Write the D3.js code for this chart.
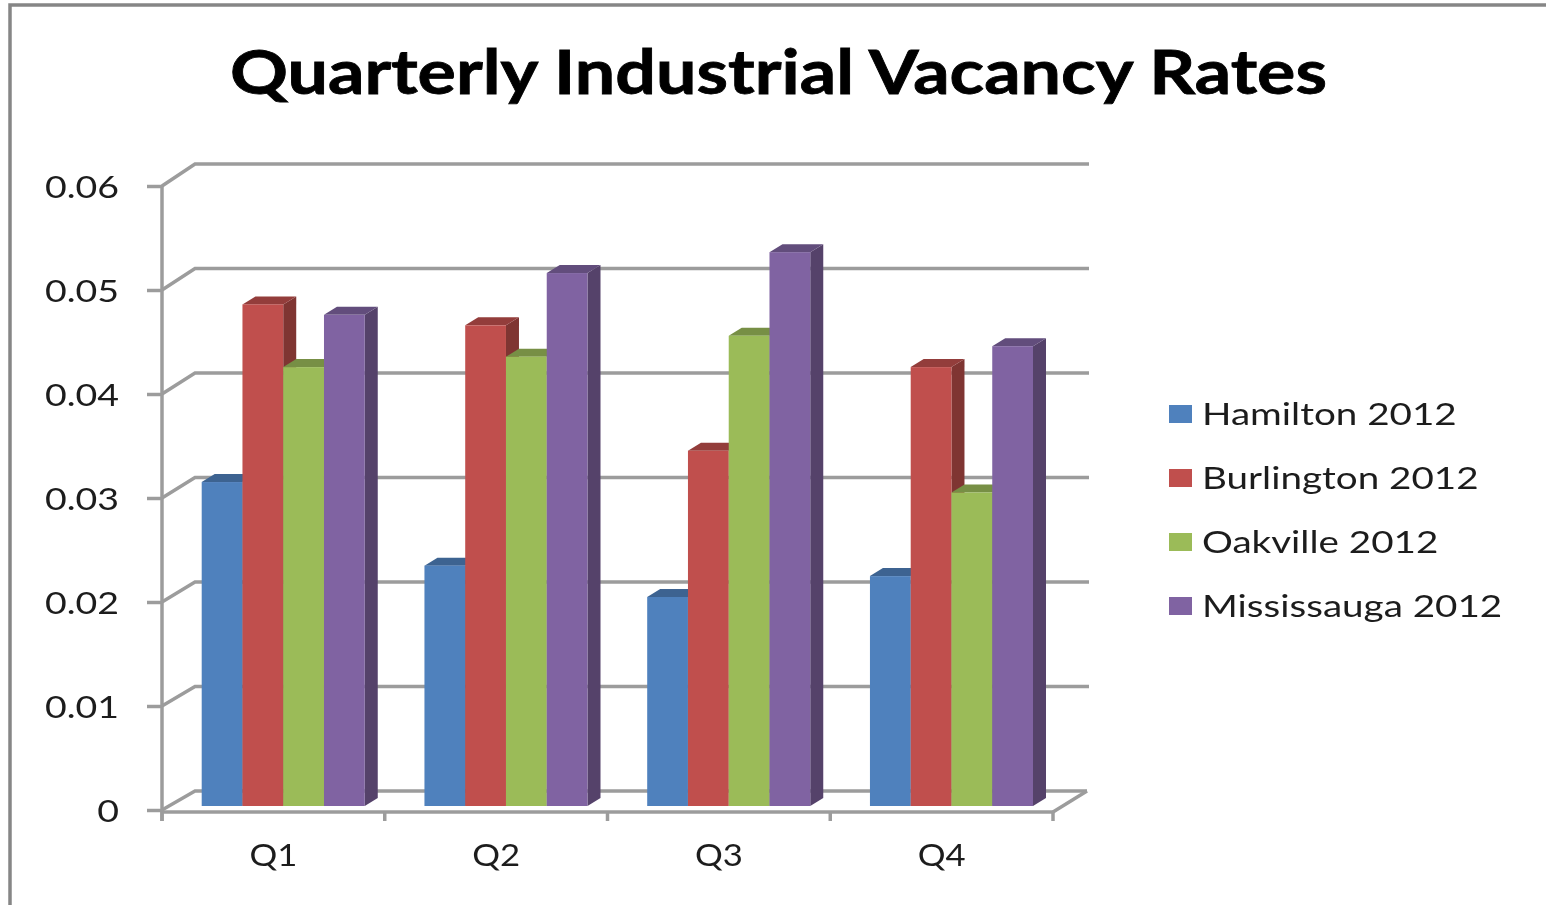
<!DOCTYPE html>
<html>
<head>
<meta charset="utf-8">
<script src="https://cdn.jsdelivr.net/npm/d3@7"></script>
<style>
  html, body { margin: 0; padding: 0; background: #fff; overflow: hidden; }
  text { font-family: Lato, "Open Sans", sans-serif; fill: #1c1c1c; }
</style>
</head>
<body>
<div id="chart"></div>
<script>
//data
var quarters = ["Q1", "Q2", "Q3", "Q4"];
var seriesNames = ["Hamilton 2012", "Burlington 2012", "Oakville 2012", "Mississauga 2012"];
var hamilton = [0.031, 0.023, 0.020, 0.022];
var burlington = [0.048, 0.046, 0.034, 0.042];
var oakville = [0.042, 0.043, 0.045, 0.030];
var mississauga = [0.047, 0.051, 0.053, 0.044];
var yTicks = [0, 0.01, 0.02, 0.03, 0.04, 0.05, 0.06];
var seriesColors = ["#4f81bd", "#c0504d", "#9bbb59", "#8064a2"];

var allSeries = [hamilton, burlington, oakville, mississauga];

var width = 1546;
var height = 905;
var lineColor = "#9c9c9c";

//3d offset of the bars
var barDx = 13;
var barDy = 8;

var svg = d3.select("#chart").append("svg")
            .attr("width", width)
            .attr("height", height)
            .style("display", "block");

//the reference is a soft upscaled screenshot
svg.append("filter").attr("id", "soft")
   .append("feGaussianBlur").attr("stdDeviation", 0.7);

var root = svg.append("g").attr("filter", "url(#soft)");

//chart frame
root.append("path")
    .attr("d", "M10,905V5H1546")
    .attr("fill", "none")
    .attr("stroke", "#868686")
    .attr("stroke-width", 3.5);

//title
root.append("text")
    .attr("x", 230)
    .attr("y", 94)
    .attr("textLength", 1097)
    .attr("lengthAdjust", "spacingAndGlyphs")
    .style("font-size", "62px")
    .style("font-weight", 700)
    .style("fill", "#000")
    .style("stroke", "#000")
    .style("stroke-width", 0.8)
    .text("Quarterly Industrial Vacancy Rates");

//scales: front of the axis, back wall, and the front face of the bars
var y = d3.scaleLinear().domain([0, 0.06]).range([810, 186]);
var yBack = d3.scaleLinear().domain([0, 0.06]).range([791, 164]);
var yBar = d3.scaleLinear().domain([0, 0.06]).range([806, 179]);

var x0 = d3.scaleBand()
           .domain(quarters)
           .range([162, 1053])
           .paddingInner(0.268)
           .paddingOuter(0.134)
           .align(0.665);

var x1 = d3.scaleBand()
           .domain(seriesNames)
           .range([0, x0.bandwidth()]);

var step = x0.step();

//back wall gridlines with their diagonal run to the axis
var grid = root.append("g")
               .attr("fill", "none")
               .attr("stroke", lineColor)
               .attr("stroke-width", 3.5);

grid.selectAll("path")
    .data(yTicks)
    .enter().append("path")
    .attr("d", function(d) {
      return "M162," + y(d) + "L195," + yBack(d) + "H" + (d == 0 ? 1087 : 1089);
    });

//floor right side
grid.append("path")
    .attr("d", "M1053,812L1087,791");

//y axis
var yAxis = d3.axisLeft(y)
              .tickValues(yTicks)
              .tickFormat(function(d) { return d == 0 ? "0" : d3.format(".2f")(d); })
              .tickSize(15)
              .tickPadding(0);

var yG = root.append("g")
             .attr("transform", "translate(162,0)")
             .call(yAxis);

yG.select(".domain")
  .attr("d", "M0," + y(0.06) + "V821")
  .attr("stroke", lineColor)
  .attr("stroke-width", 3.5);
yG.selectAll(".tick line").attr("stroke", lineColor).attr("stroke-width", 3.5);
yG.selectAll(".tick text")
  .style("font-size", "31px")
  .style("font-family", "Lato")
  .attr("x", 0)
  .attr("transform", "translate(-43,2) scale(1.21,1)");

//x axis
var xG = root.append("g")
             .attr("transform", "translate(0,812)");

xG.append("path")
  .attr("d", "M162,0H1053")
  .attr("stroke", lineColor)
  .attr("stroke-width", 3.5);

xG.selectAll(".qtick")
  .data(d3.range(quarters.length + 1))
  .enter().append("line")
  .attr("class", "qtick")
  .attr("x1", function(i) { return 162 + i * step; })
  .attr("x2", function(i) { return 162 + i * step; })
  .attr("y1", 0)
  .attr("y2", 9)
  .attr("stroke", lineColor)
  .attr("stroke-width", 3.5);

//quarter labels sit in the middle of the tick interval, not under the bars
root.selectAll(".qlabel")
    .data(quarters)
    .enter().append("text")
    .attr("class", "qlabel")
    .attr("text-anchor", "middle")
    .attr("transform", function(d, i) {
      return "translate(" + (162 + (i + 0.5) * step) + ",866) scale(1.12,1)";
    })
    .style("font-size", "31px")
    .text(function(d) { return d; });

//bars, drawn left to right so each front covers its neighbour's side
function barFaces(g, color) {
  var base = yBar(0);
  g.each(function(d) {
    var bar = d3.select(this);
    var left = x0(d.quarter) + x1(d.name);
    var w = x1.bandwidth();
    var top = yBar(d.value);

    bar.append("path")
       .attr("fill", d3.color(color).darker(1.15))
       .attr("d", "M" + (left + w) + "," + base +
                  "L" + (left + w + barDx) + "," + (base - barDy) +
                  "V" + (top - barDy) +
                  "L" + (left + w) + "," + top + "Z");
    bar.append("path")
       .attr("fill", d3.color(color).darker(0.75))
       .attr("d", "M" + left + "," + top +
                  "L" + (left + barDx) + "," + (top - barDy) +
                  "H" + (left + w + barDx) +
                  "L" + (left + w) + "," + top + "Z");
    bar.append("rect")
       .attr("x", left)
       .attr("y", top)
       .attr("width", w)
       .attr("height", base - top)
       .attr("fill", color);
  });
}

quarters.forEach(function(q, qi) {
  seriesNames.forEach(function(name, si) {
    root.append("g")
        .datum({quarter: q, name: name, value: allSeries[si][qi]})
        .call(barFaces, seriesColors[si]);
  });
});

//legend
var legendY = d3.scalePoint().domain(seriesNames).range([414, 606]);

var legend = root.selectAll(".legend")
                 .data(seriesNames)
                 .enter().append("g")
                 .attr("class", "legend")
                 .attr("transform", function(d) { return "translate(1169," + legendY(d) + ")"; });

legend.append("rect")
      .attr("y", -9)
      .attr("width", 23)
      .attr("height", 18)
      .attr("fill", function(d, i) { return seriesColors[i]; });

legend.append("text")
      .attr("transform", "translate(33,11) scale(1.245,1)")
      .style("font-size", "31px")
      .text(function(d) { return d; });
</script>
</body>
</html>
